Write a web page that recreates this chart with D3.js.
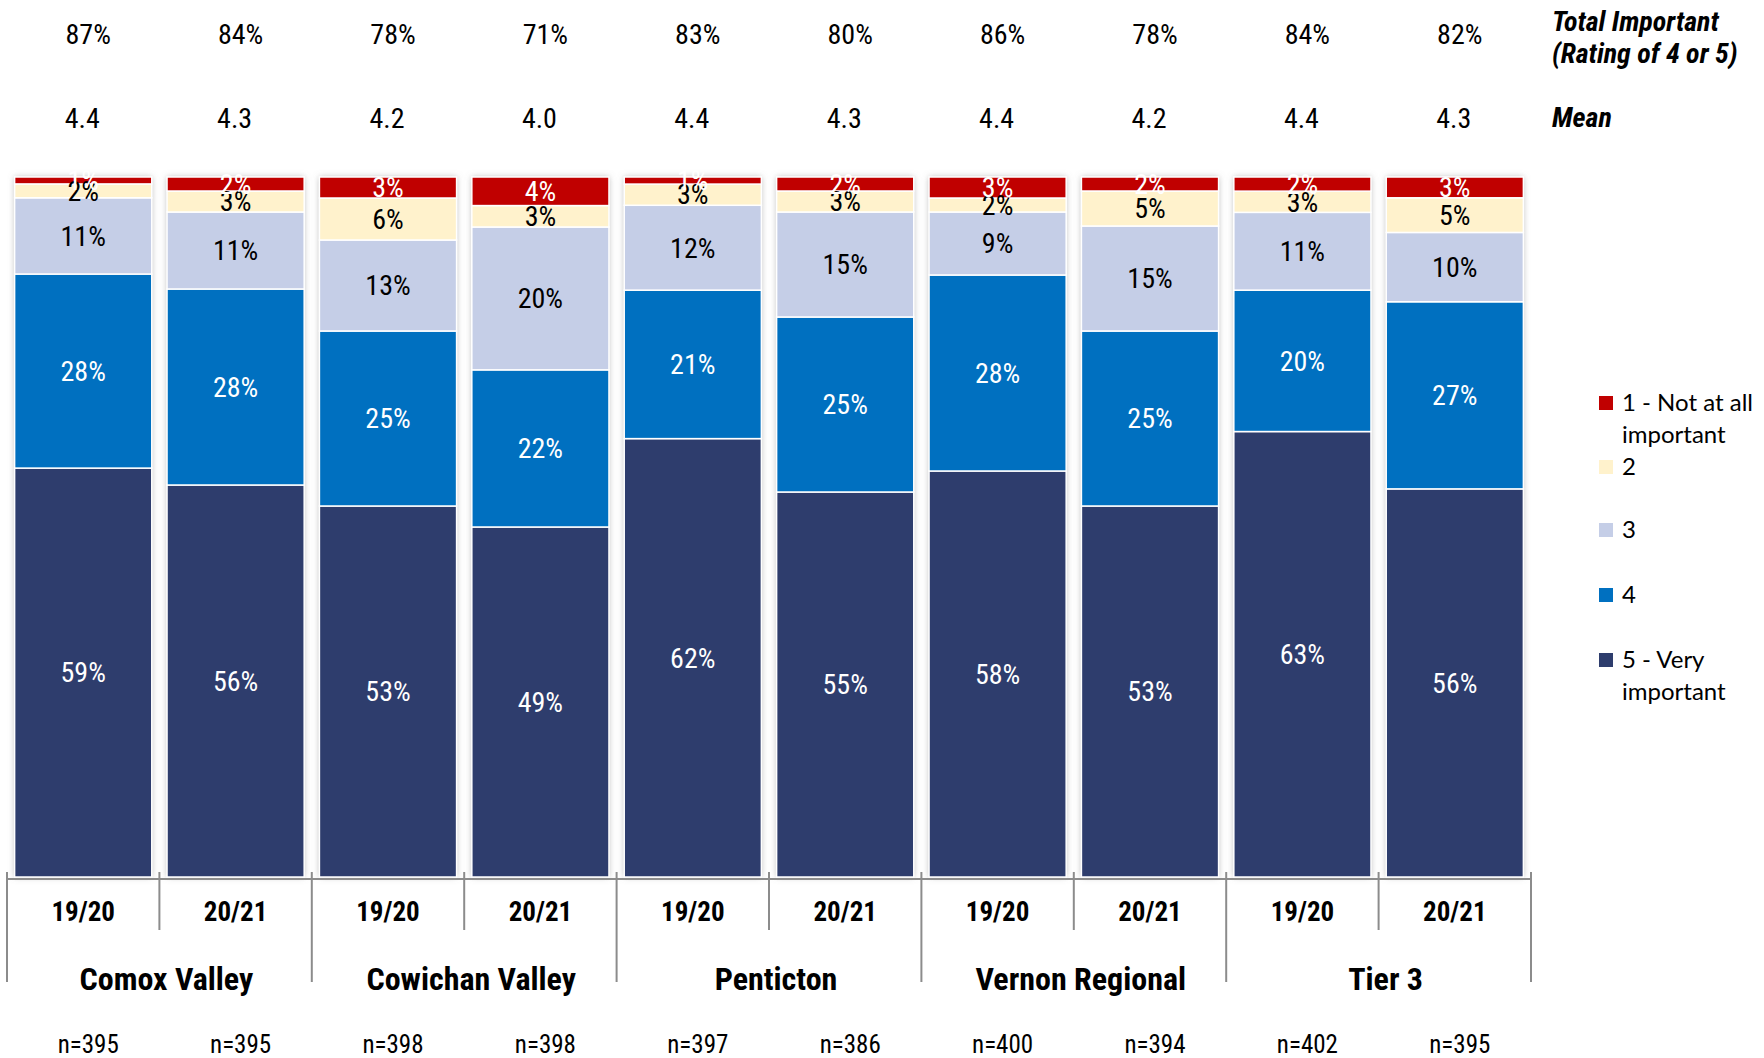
<!DOCTYPE html>
<html>
<head>
<meta charset="utf-8">
<script src="https://cdn.jsdelivr.net/npm/d3@7"></script>
<style>
  html, body { margin: 0; padding: 0; background: #ffffff; }
  svg { display: block; }
  .narrow { font-family: "Liberation Sans Narrow", "Arial Narrow", "Roboto Condensed", sans-serif; }
  .legend text { font-family: Lato, "Open Sans", sans-serif; }
</style>
</head>
<body>
<svg id="chart" width="1764" height="1058"></svg>
<script>
// Regions and survey waves
const groups = ["Comox Valley", "Cowichan Valley", "Penticton", "Vernon Regional", "Tier 3"];
const waves = ["19/20", "20/21"];
const sampleSizes = [395, 395, 398, 398, 397, 386, 400, 394, 402, 395];

// Share of respondents per rating (percent), one entry per bar
const rating5 = [59, 56, 53, 49, 62, 55, 58, 53, 63, 56];
const rating4 = [28, 28, 25, 22, 21, 25, 28, 25, 20, 27];
const rating3 = [11, 11, 13, 20, 12, 15, 9, 15, 11, 10];
const rating2 = [2, 3, 6, 3, 3, 3, 2, 5, 3, 5];
const rating1 = [1, 2, 3, 4, 1, 2, 3, 2, 2, 3];

// Summary rows above the bars
const totalImportant = [87, 84, 78, 71, 83, 80, 86, 78, 84, 82];
const meanScore = ["4.4", "4.3", "4.2", "4.0", "4.4", "4.3", "4.4", "4.2", "4.4", "4.3"];

// Series, stacked bottom to top
const seriesKeys = ["r5", "r4", "r3", "r2", "r1"];
const seriesNames = {
  r1: ["1 - Not at all", "important"],
  r2: ["2"],
  r3: ["3"],
  r4: ["4"],
  r5: ["5 - Very", "important"]
};
const colors = { r1: "#C00000", r2: "#FFF2CC", r3: "#C5CEE7", r4: "#0070C0", r5: "#2E3D6D" };
const labelColors = { r1: "#ffffff", r2: "#000000", r3: "#000000", r4: "#ffffff", r5: "#ffffff" };

const rows = rating5.map((_, i) => ({
  idx: i,
  group: groups[Math.floor(i / 2)],
  wave: waves[i % 2],
  r5: rating5[i], r4: rating4[i], r3: rating3[i], r2: rating2[i], r1: rating1[i]
}));

const svg = d3.select("#chart");

const x = d3.scaleBand()
  .domain(rows.map(d => d.idx))
  .range([7, 1531])
  .paddingInner(0.1)
  .paddingOuter(0.05);

const y = d3.scaleLinear().domain([0, 1]).range([877, 177]);

const cx = d => x(d.idx) + x.bandwidth() / 2;

// 100% stacked layout
const stack = d3.stack().keys(seriesKeys).offset(d3.stackOffsetExpand);
const stacked = stack(rows);

// Soft grey glow around each bar
const defs = svg.append("defs");
const f = defs.append("filter").attr("id", "barShadow")
  .attr("x", "-10%").attr("y", "-5%").attr("width", "120%").attr("height", "110%");
f.append("feDropShadow").attr("dx", 0).attr("dy", 0).attr("stdDeviation", 3)
  .attr("flood-color", "#7f7f7f").attr("flood-opacity", 0.55);

// Bar backgrounds carrying the shadow
svg.append("g").selectAll("rect")
  .data(rows)
  .join("rect")
  .attr("x", d => x(d.idx))
  .attr("width", x.bandwidth())
  .attr("y", y(1))
  .attr("height", y(0) - y(1))
  .attr("fill", "#ffffff")
  .attr("filter", "url(#barShadow)");

// Stacked segments
const layers = svg.append("g").selectAll("g")
  .data(stacked)
  .join("g")
  .attr("fill", s => colors[s.key]);

layers.selectAll("rect")
  .data(s => s.map(p => ({ key: s.key, p })))
  .join("rect")
  .attr("x", d => x(d.p.data.idx))
  .attr("width", x.bandwidth())
  .attr("y", d => y(d.p[1]))
  .attr("height", d => y(d.p[0]) - y(d.p[1]))
  .attr("stroke", "#ffffff")
  .attr("stroke-width", 1.5);

// Segment value labels
const segLabels = svg.append("g").attr("class", "narrow");
stacked.forEach(s => {
  segLabels.selectAll(null)
    .data(s)
    .join("text")
    .attr("x", p => cx(p.data))
    .attr("y", p => (y(p[0]) + y(p[1])) / 2)
    .attr("dy", "0.35em")
    .attr("text-anchor", "middle")
    .attr("font-size", 28)
    .attr("fill", labelColors[s.key])
    .text(p => p.data[s.key] + "%");
});

// Summary rows
const summary = svg.append("g").attr("class", "narrow").attr("font-size", 28).attr("fill", "#000");
summary.selectAll(".tot")
  .data(rows)
  .join("text")
  .attr("x", d => cx(d) + 5)
  .attr("y", 34)
  .attr("dy", "0.35em")
  .attr("text-anchor", "middle")
  .text(d => totalImportant[d.idx] + "%");
summary.selectAll(".mean")
  .data(rows)
  .join("text")
  .attr("x", d => cx(d) - 1)
  .attr("y", 118)
  .attr("dy", "0.35em")
  .attr("text-anchor", "middle")
  .text(d => meanScore[d.idx]);

const rowHead = svg.append("g").attr("class", "narrow")
  .attr("font-size", 28).attr("font-weight", "bold").attr("font-style", "italic");
rowHead.append("text").attr("x", 1552).attr("y", 21).attr("dy", "0.35em").text("Total Important");
rowHead.append("text").attr("x", 1552).attr("y", 53).attr("dy", "0.35em").text("(Rating of 4 or 5)");
rowHead.append("text").attr("x", 1552).attr("y", 117).attr("dy", "0.35em").text("Mean");

// Category axis: baseline, wave ticks and region separators
const axis = svg.append("g").attr("stroke", "#8c8c8c").attr("stroke-width", 2);
axis.append("line")
  .attr("x1", x.range()[0]).attr("x2", x.range()[1])
  .attr("y1", 879).attr("y2", 879);
const step = x.step();
const edges = d3.range(rows.length + 1).map(i => x.range()[0] + i * step);
axis.selectAll(".tick")
  .data(edges)
  .join("line")
  .attr("x1", d => d).attr("x2", d => d)
  .attr("y1", 872)
  .attr("y2", (d, i) => i % 2 === 0 ? 982 : 930);

const axisText = svg.append("g").attr("class", "narrow").attr("fill", "#000");
axisText.selectAll(".wave")
  .data(rows)
  .join("text")
  .attr("x", d => cx(d))
  .attr("y", 912)
  .attr("dy", "0.35em")
  .attr("text-anchor", "middle")
  .attr("font-size", 27)
  .attr("font-weight", "bold")
  .text(d => d.wave);
axisText.selectAll(".group")
  .data(groups)
  .join("text")
  .attr("x", (g, i) => edges[i * 2] + step + 7)
  .attr("y", 979)
  .attr("dy", "0.35em")
  .attr("text-anchor", "middle")
  .attr("font-size", 32)
  .attr("font-weight", "bold")
  .text(g => g);
axisText.selectAll(".n")
  .data(rows)
  .join("text")
  .attr("x", d => cx(d) + 5)
  .attr("y", 1044)
  .attr("dy", "0.35em")
  .attr("text-anchor", "middle")
  .attr("font-size", 25)
  .text(d => "n=" + sampleSizes[d.idx]);

// Legend, top rating first
const legendRows = [
  { key: "r1", y: 403 },
  { key: "r2", y: 467 },
  { key: "r3", y: 530 },
  { key: "r4", y: 595 },
  { key: "r5", y: 660 }
];
const legend = svg.append("g").attr("class", "legend");
const item = legend.selectAll("g")
  .data(legendRows)
  .join("g")
  .attr("transform", d => `translate(1599, ${d.y})`);
item.append("rect")
  .attr("x", 0).attr("y", -7).attr("width", 14).attr("height", 14)
  .attr("fill", d => colors[d.key]);
item.append("text")
  .attr("x", 23)
  .attr("font-size", 24)
  .attr("fill", "#000")
  .selectAll("tspan")
  .data(d => seriesNames[d.key])
  .join("tspan")
  .attr("x", 23)
  .attr("y", (t, i) => i * 32)
  .attr("dy", "0.35em")
  .text(t => t);
</script>
</body>
</html>
